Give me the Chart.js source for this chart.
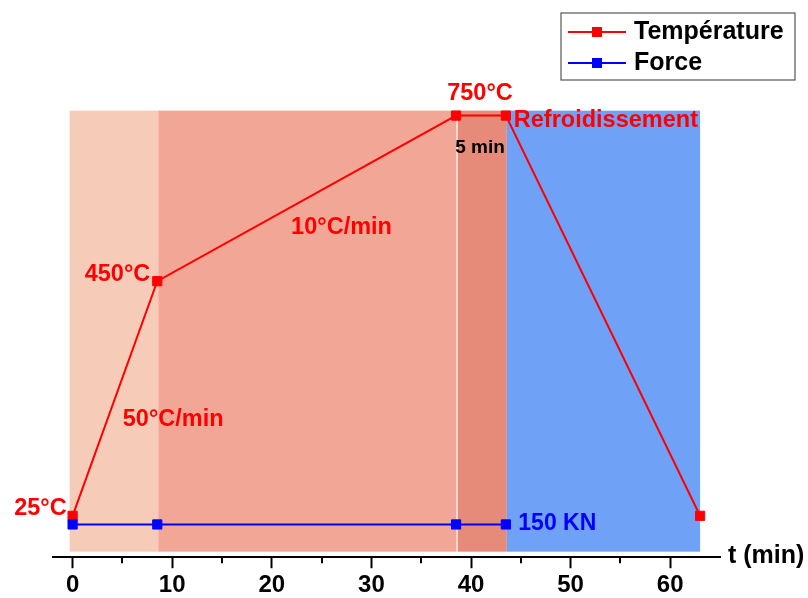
<!DOCTYPE html>
<html>
<head>
<meta charset="utf-8">
<script src="https://cdn.jsdelivr.net/npm/chart.js@4"></script>
<style>
  html, body { margin: 0; background: #fff; overflow: hidden; }
  canvas { display: block; }
</style>
</head>
<body>
<canvas id="myChart" width="808" height="603"></canvas>
<script>
// data
const time = [0, 8.5, 38.5, 43.5, 63];
const temperature = [25, 450, 750, 750, 25];
const forceTime = [0, 8.5, 38.5, 43.5];
const force = [150, 150, 150, 150];

// process phases (min)
const phaseStart = [-0.3, 8.6, 38.6, 43.6];
const phaseEnd = [8.6, 38.6, 43.6, 63];
const phaseColors = ['#f6ccb8', '#f2a796', '#e68b79', '#6fa2f7'];

const tickValues = [0, 5, 10, 15, 20, 25, 30, 35, 40, 45, 50, 55, 60];

// text labels, placed in (time, temperature) units
const notes = [
    { text: '25°C', x: -0.6, y: 38, align: 'right', color: '#ff0000', size: 23.5 },
    { text: '450°C', x: 7.8, y: 462, align: 'right', color: '#ff0000', size: 23.5 },
    { text: '750°C', x: 40.9, y: 790, align: 'center', color: '#ff0000', size: 23.5 },
    { text: 'Refroidissement', x: 44.3, y: 741, align: 'left', color: '#ff0000', size: 23.5 },
    { text: '5 min', x: 40.9, y: 692, align: 'center', color: '#000000', size: 19 },
    { text: '10°C/min', x: 27.0, y: 548, align: 'center', color: '#ff0000', size: 23.5 },
    { text: '50°C/min', x: 10.1, y: 200, align: 'center', color: '#ff0000', size: 23.5 },
    { text: '150 KN', x: 44.75, y: 10.5, align: 'left', color: '#0000ff', size: 23 }
];

const FONT = '"Liberation Sans", Arial, sans-serif';

const phasesPlugin = {
    id: 'phases',
    beforeDatasetsDraw(chart) {
        const { ctx, scales: { x, y } } = chart;
        const top = y.getPixelForValue(759);
        const bottom = y.getPixelForValue(-40);
        ctx.save();
        for (let i = 0; i < phaseStart.length; i++) {
            const x0 = x.getPixelForValue(phaseStart[i]);
            const x1 = x.getPixelForValue(phaseEnd[i]);
            ctx.fillStyle = phaseColors[i];
            ctx.fillRect(x0, top, x1 - x0, bottom - top);
        }
        // thin white seam between 2nd and 3rd phase
        const xs = x.getPixelForValue(phaseStart[2]);
        ctx.strokeStyle = '#ffffff';
        ctx.lineWidth = 1.2;
        ctx.beginPath();
        ctx.moveTo(xs, top);
        ctx.lineTo(xs, bottom);
        ctx.stroke();
        ctx.restore();
    },
    afterDraw(chart) {
        const { ctx, scales: { x, y }, chartArea } = chart;
        ctx.save();
        // minor ticks
        ctx.strokeStyle = '#000';
        ctx.lineWidth = 2;
        tickValues.filter(v => v % 10 !== 0).forEach(v => {
            const px = Math.round(x.getPixelForValue(v));
            ctx.beginPath();
            ctx.moveTo(px, chartArea.bottom);
            ctx.lineTo(px, chartArea.bottom + 6);
            ctx.stroke();
        });
        // axis title at the right end
        ctx.fillStyle = '#000';
        ctx.font = 'bold 25px ' + FONT;
        ctx.textAlign = 'left';
        ctx.textBaseline = 'middle';
        ctx.fillText('t (min)', chartArea.right + 8, chartArea.bottom - 1);

        // annotations
        notes.forEach(n => {
            ctx.font = 'bold ' + n.size + 'px ' + FONT;
            ctx.fillStyle = n.color;
            ctx.textAlign = n.align;
            ctx.fillText(n.text, x.getPixelForValue(n.x), y.getPixelForValue(n.y));
        });

        // legend
        const lx = 561, ly = 13, lw = 234, lh = 67;
        ctx.fillStyle = '#fff';
        ctx.fillRect(lx, ly, lw, lh);
        ctx.strokeStyle = '#555';
        ctx.lineWidth = 1.2;
        ctx.strokeRect(lx, ly, lw, lh);
        chart.data.datasets.forEach((ds) => {
            const rowY = ly + 19 + ds.legendRow * 31;
            ctx.strokeStyle = ds.borderColor;
            ctx.lineWidth = 2;
            ctx.beginPath();
            ctx.moveTo(lx + 7, rowY);
            ctx.lineTo(lx + 65, rowY);
            ctx.stroke();
            ctx.fillStyle = ds.borderColor;
            ctx.fillRect(lx + 31, rowY - 5, 10, 10);
            ctx.fillStyle = '#000';
            ctx.font = 'bold 25px ' + FONT;
            ctx.textAlign = 'left';
            ctx.fillText(ds.label, lx + 73, rowY);
        });
        ctx.restore();
    }
};

const ctx = document.getElementById('myChart');

const chart = new Chart(ctx, {
    type: 'line',
    data: {
        datasets: [
            {
                label: 'Température',
                legendRow: 0,
                data: time.map((t, i) => ({ x: t, y: temperature[i] })),
                borderColor: '#ff0000',
                backgroundColor: '#ff0000',
                borderWidth: 2,
                pointStyle: 'rect',
                pointRadius: 6.5,
                pointBorderWidth: 1,
                yAxisID: 'y',
                order: 2
            },
            {
                label: 'Force',
                legendRow: 1,
                data: forceTime.map((t, i) => ({ x: t, y: force[i] })),
                borderColor: '#0000ff',
                backgroundColor: '#0000ff',
                borderWidth: 2,
                pointStyle: 'rect',
                pointRadius: 6.5,
                pointBorderWidth: 1,
                yAxisID: 'y2',
                order: 1
            }
        ]
    },
    options: {
        responsive: false,
        animation: false,
        layout: { padding: { left: 52.7, right: 88, top: 88, bottom: 0 } },
        plugins: {
            legend: { display: false },
            tooltip: { enabled: false }
        },
        scales: {
            x: {
                type: 'linear',
                min: -2,
                max: 65,
                afterBuildTicks: (axis) => {
                    axis.ticks = tickValues.map(v => ({ value: v }));
                },
                grid: {
                    drawOnChartArea: false,
                    drawTicks: true,
                    tickLength: 11,
                    tickWidth: 2,
                    tickColor: (c) => (c.tick && c.tick.value % 10 === 0) ? '#000' : 'rgba(0,0,0,0)'
                },
                border: { display: true, color: '#000', width: 2 },
                ticks: {
                    color: '#000',
                    padding: 3,
                    maxRotation: 0,
                    autoSkip: false,
                    font: { family: FONT, size: 24, weight: 'bold' },
                    callback: (v) => v % 10 === 0 ? v : ''
                }
            },
            y: {
                display: false,
                min: -50,
                max: 800
            },
            y2: {
                display: false,
                min: 0,
                max: 2150
            }
        }
    },
    plugins: [phasesPlugin]
});
</script>
</body>
</html>
